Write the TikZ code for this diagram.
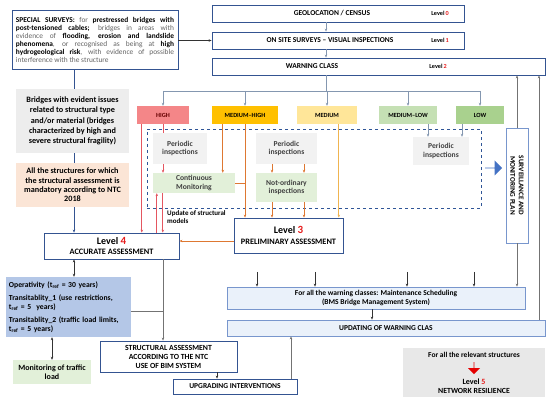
\documentclass[tikz,border=0pt]{standalone}
\usepackage{fontspec}
\setmainfont{Carlito}
\usetikzlibrary{arrows.meta,shapes.arrows}

\definecolor{bordblue}{RGB}{52,84,145}
\definecolor{midblue}{RGB}{120,150,205}
\definecolor{busblue}{RGB}{132,151,176}
\definecolor{dashblue}{RGB}{47,85,151}
\definecolor{arrowblue}{RGB}{68,114,196}
\definecolor{lvlred}{RGB}{230,30,30}
\definecolor{highred}{RGB}{244,134,136}
\definecolor{medhighor}{RGB}{255,192,0}
\definecolor{medyel}{RGB}{255,230,153}
\definecolor{medlowgr}{RGB}{197,224,180}
\definecolor{lowgr}{RGB}{169,209,142}
\definecolor{pergray}{RGB}{242,242,242}
\definecolor{softgreen}{RGB}{226,240,217}
\definecolor{bridgegray}{RGB}{237,237,237}
\definecolor{ntcpeach}{RGB}{251,229,214}
\definecolor{opsblue}{RGB}{180,199,231}
\definecolor{paleblue}{RGB}{234,241,250}
\definecolor{lvlfivegray}{RGB}{232,232,232}
\definecolor{textgray}{RGB}{100,100,100}
\definecolor{redline}{RGB}{228,86,96}
\definecolor{orline}{RGB}{222,120,50}
\definecolor{yelline}{RGB}{240,180,80}

\newcommand{\bk}[1]{\textcolor{black}{\textbf{#1}}}
\newcommand{\levelno}[1]{Level\,\textcolor{lvlred}{#1}}

\begin{document}
\begin{tikzpicture}[x=1pt, y=-1pt, >={Stealth[length=3pt,width=2.5pt]},
  box/.style={draw=bordblue, line width=0.8pt, fill=white, inner sep=0pt, align=center, font=\bfseries\fontsize{7.5}{9}\selectfont},
  lbox/.style={draw=midblue, line width=0.7pt, fill=paleblue, inner sep=0pt, align=center, font=\bfseries\fontsize{7.5}{9.5}\selectfont},
  txt/.style={inner sep=0pt, align=center, font=\bfseries\fontsize{7.5}{9}\selectfont},
  lvltxt/.style={inner sep=0pt, font=\bfseries\fontsize{6.2}{7}\selectfont},
  cls/.style={inner sep=0pt, minimum height=18, font=\bfseries\fontsize{6.3}{7}\selectfont},
  inner/.style={inner sep=0pt, align=center, text=black!75, font=\bfseries\fontsize{7.6}{8.5}\selectfont},
  soft/.style={inner sep=0pt, align=center, font=\bfseries\fontsize{8.2}{10.2}\selectfont},
  bus/.style={draw=busblue, line width=0.6pt},
  blueline/.style={draw=bordblue, line width=0.7pt},
  redl/.style={draw=redline, line width=0.7pt},
  orl/.style={draw=orline, line width=0.7pt},
  yell/.style={draw=yelline, line width=0.7pt},
  grayl/.style={draw=black!55, line width=0.9pt},
  darkl/.style={draw=black!80, line width=0.6pt}]
\useasboundingbox (0,0) rectangle (550,401);

% top chain
\node (surveys) at (95,39.5) [box, minimum width=166, minimum height=59, text width=158, align=justify, text=textgray, font=\fontsize{7.4}{8}\selectfont] {\hyphenpenalty=10000 \bk{SPECIAL SURVEYS:} for \bk{prestressed bridges with}\linebreak \bk{\mbox{post-tensioned} cables;} bridges in areas with\linebreak evidence of \bk{flooding, erosion and landslide}\linebreak \bk{phenomena}, or recognised as being at \bk{high}\linebreak \bk{hydrogeological risk}, with evidence of possible\linebreak interference with the structure};
\node (geo) at (338,13.5) [box, minimum width=252, minimum height=17] {};
\node (geotxt) at (332,13.5) [txt] {GEOLOCATION / CENSUS};
\node (geolvl) at (440,13.5) [lvltxt] {\levelno{0}};
\node (onsite) at (338,40.5) [box, minimum width=252, minimum height=17] {};
\node (onsitetxt) at (330,40.5) [txt] {ON SITE SURVEYS -- VISUAL INSPECTIONS};
\node (onsitelvl) at (440,40.5) [lvltxt] {\levelno{1}};
\node (warn) at (378.5,66.5) [box, minimum width=333, minimum height=17] {};
\node (warntxt) at (312,66.5) [txt] {WARNING CLASS};
\node (warnlvl) at (438,66.5) [lvltxt] {\levelno{2}};

% warning classes
\node (high) at (163,115) [cls, fill=highred, minimum width=52, text=red!40!black] {HIGH};
\node (medhigh) at (245,115) [cls, fill=medhighor, minimum width=66] {MEDIUM--HIGH};
\node (med) at (327,115) [cls, fill=medyel, minimum width=60] {MEDIUM};
\node (medlow) at (408,115) [cls, fill=medlowgr, minimum width=58] {MEDIUM--LOW};
\node (low) at (480,115) [cls, fill=lowgr, minimum width=48] {LOW};

\coordinate (spine) at (326,91);
\draw[bus,->] (geo.south -| spine) -- (onsite.north -| spine);
\draw[bus,->] (onsite.south -| spine) -- (warn.north -| spine);
\draw[bus] (warn.south -| spine) -- (spine);
\draw[bus] (high.north |- spine) -- (low.north |- spine);
\foreach \c in {high,medhigh,med,medlow,low}
  \draw[bus,->] (\c.north |- spine) -- (\c.north);

% inspections group
\node (group) at (314,168.5) [draw=dashblue, dashed, line width=0.8pt, minimum width=334, minimum height=79, inner sep=0pt] {};
\node (per1) at (180,148.5) [inner, fill=pergray, minimum width=54, minimum height=31] {Periodic\\inspections};
\node (cm) at (194,183) [inner, fill=softgreen, minimum width=82, minimum height=20] {Continuous\\Monitoring};
\node (per2) at (286.5,148.5) [inner, fill=pergray, minimum width=61, minimum height=31] {Periodic\\inspections};
\node (noi) at (286.5,187.5) [inner, fill=softgreen, minimum width=61, minimum height=29] {Not-ordinary\\inspections};
\node (per3) at (441,151) [inner, fill=pergray, minimum width=56, minimum height=28] {Periodic\\inspections};
\draw[bus,->] ([xshift=20pt]medlow.south) -- ([xshift=20pt]medlow.south |- per3.north);
\draw[bus,->] ([xshift=-18pt]low.south) -- ([xshift=-18pt]low.south |- per3.north);
\node (bigarrow) at (493.5,168) [single arrow, fill=arrowblue, minimum height=17, minimum width=15, single arrow head extend=3pt, single arrow head indent=0pt, inner sep=0pt] {};
\node (surv) at (517,185.5) [draw=midblue, line width=0.8pt, fill=white, minimum width=22, minimum height=115, inner sep=0pt] {};
\node (survtxt) at (surv.center) [txt, rotate=-90, font=\bfseries\fontsize{7.2}{8.5}\selectfont] {SURVEILLANCE AND\\MONITORING PLAN};

% left column
\node (bridges) at (72.5,121) [soft, fill=bridgegray, minimum width=113, minimum height=64] {Bridges with evident issues\\related to structural type\\and/or material (bridges\\characterized by high and\\severe structural fragility)};
\node (ntc) at (72.5,185) [soft, fill=ntcpeach, minimum width=113, minimum height=44, font=\bfseries\fontsize{8.2}{9.3}\selectfont] {All the structures for which\\the structural assessment is\\mandatory according to NTC\\2018};

% assessments
\node (lvl4) at (111.5,246) [box, minimum width=135, minimum height=26, font=\bfseries\fontsize{8.3}{10.5}\selectfont] {{\fontsize{10}{10}\selectfont Level \textcolor{lvlred}{\fontsize{11}{10}\selectfont 4}}\\ACCURATE ASSESSMENT};
\node (lvl3) at (288.5,235.5) [box, minimum width=109, minimum height=35, font=\bfseries\fontsize{8.3}{10.5}\selectfont] {{\fontsize{10}{10}\selectfont Level \textcolor{lvlred}{\fontsize{11}{10}\selectfont 3}}\\PRELIMINARY ASSESSMENT};
\node (update) at (167,210) [anchor=north west, inner sep=0pt, align=left, font=\bfseries\fontsize{7}{8}\selectfont] {Update of structural\\models};
\node (ops) at (68.5,307) [fill=opsblue, minimum width=125, minimum height=60, inner sep=0pt, text width=119, align=left, font=\bfseries\fontsize{7.7}{9}\selectfont] {Operativity (t\textsubscript{ref} = 30 years)\\[4.5pt]Transitablity\_1 (use restrictions,\\t\textsubscript{ref} = 5~~years)\\[4pt]Transitablity\_2 (traffic load limits,\\t\textsubscript{ref} = 5 years)};
\node (traffic) at (52,372) [soft, fill=softgreen, minimum width=78, minimum height=24, font=\bfseries\fontsize{8}{9}\selectfont] {Monitoring of traffic\\load};
\node (struct) at (168.5,356.5) [box, minimum width=137, minimum height=31, font=\bfseries\fontsize{7.8}{9}\selectfont] {STRUCTURAL ASSESSMENT\\ACCORDING TO THE NTC\\USE OF BIM SYSTEM};
\node (upgr) at (235,386.5) [box, minimum width=124, minimum height=15] {UPGRADING INTERVENTIONS};
\node (maint) at (376,298) [lbox, minimum width=298, minimum height=22] {For all the warning classes: Maintenance Scheduling\\(BMS Bridge Management System)};
\node (upd) at (386,328) [lbox, minimum width=318, minimum height=16] {UPDATING OF WARNING CLAS};

% level 5
\node (lvl5) at (474,372.5) [fill=lvlfivegray, minimum width=142, minimum height=49, inner sep=0pt] {};
\node (lvl5top) at (474,355) [txt] {For all the relevant structures};
\node (redarrow) at (474,368) [single arrow, shape border rotate=270, fill=red!90!black, minimum height=12, minimum width=12, single arrow head extend=2.5pt, single arrow head indent=0pt, inner sep=0pt] {};
\node (lvl5lvl) at (474,381.5) [txt, font=\bfseries\fontsize{8}{9}\selectfont] {Level \textcolor{lvlred}{5}};
\node (lvl5txt) at (474,391) [txt, font=\bfseries\fontsize{7.8}{9}\selectfont] {NETWORK RESILIENCE};

% connectors
\draw[darkl,->] (surveys.east |- onsite.west) -- (onsite.west);
\coordinate (leftline) at (74,0);
\draw[blueline] (surveys.south -| leftline) -- (bridges.north -| leftline);
\draw[blueline] (bridges.south -| leftline) -- (ntc.north -| leftline);
\draw[blueline,->] (ntc.south -| leftline) -- (lvl4.north -| leftline);
\draw[darkl,<->] (lvl4.south -| leftline) -- (ops.north -| leftline);
\draw[darkl,<->] (ops.south -| traffic.north) -- (traffic.north);

\draw[redl] (high.south) -- (high.south |- per1.north);
\draw[redl,->] (high.south |- per1.south) -- (high.south |- cm.north);
\draw[redl,->] ([xshift=5pt]high.south west) -- ([xshift=5pt]high.south west |- lvl4.north);
\draw[redl,->] ([xshift=4pt]cm.south west |- lvl4.north) -- ([xshift=4pt]cm.south west);
\draw[redl,->] ([xshift=10pt]cm.south west) -- ([xshift=10pt]cm.south west |- lvl4.north);

\draw[orl,->] ([xshift=11pt]medhigh.south west) -- ([xshift=11pt]medhigh.south west |- cm.north);
\draw[orl,->] (medhigh.south) -- (medhigh.south |- lvl3.north);
\draw[orl] (cm.east) -- (cm.east -| medhigh.south);
\coordinate (noileft) at (272,0);
\coordinate (noiright) at (304,0);
\foreach \p in {noileft,noiright} {
  \draw[orl,->] (per2.south -| \p) -- (noi.north -| \p);
  \draw[orl,->] (noi.south -| \p) -- (lvl3.north -| \p);
}
\draw[yell,->] ([xshift=42pt]med.south west) -- ([xshift=42pt]med.south west |- lvl3.north);
\draw[orl,->] ([yshift=-5.5pt]lvl3.west) -- ([yshift=-5.5pt]lvl3.west -| lvl4.east);

\coordinate (grayx) at (163,0);
\draw[grayl,->] (lvl4.south -| grayx) -- (struct.north -| grayx);
\draw[grayl] ([yshift=-4pt]ops.east) -- ([yshift=-4pt]ops.east -| grayx);
\draw[darkl,->] ([xshift=48.5pt]struct.south) -- ([xshift=48.5pt]struct.south |- upgr.north);
\draw[grayl,->] ([xshift=56pt]upgr.north) -- ([xshift=56pt]upgr.north |- upd.south);
\foreach \x [count=\i] in {257,315,407,474} {
  \coordinate (in\i) at (\x,272);
  \draw[darkl,->] (in\i) -- (in\i |- maint.north);
}
\draw[grayl,->] (surv.south) -- (surv.south |- maint.north);
\draw[grayl,->] (surv.north) -- (surv.north |- warn.south);
\draw[darkl,->] ([xshift=-4pt]maint.south) -- ([xshift=-4pt]maint.south |- upd.north);
\coordinate (updup) at (539,0);
\draw[grayl,->] (upd.north -| updup) -- (warn.south -| updup);
\end{tikzpicture}
\end{document}
